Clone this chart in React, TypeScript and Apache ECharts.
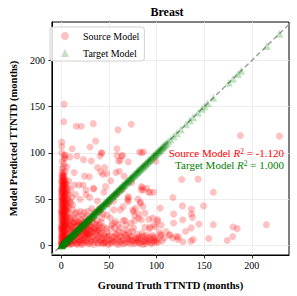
import React, { useEffect, useRef } from "react";
import * as echarts from "echarts";

const FONT = "Liberation Serif";

const xTickLabels = [0, 50, 100, 150, 200];
const yTickLabels = [0, 50, 100, 150, 200];

const seriesNames = ["Source Model", "Target Model"];

const sourceR2 = "-1.120";
const targetR2 = "1.000";

// [ground truth, predicted] for source model
const sourcePoints: [number, number][] = [
  // dense column near x = 0
  [0.5, 1], [1, 3], [2, 0.5], [3, 2], [0.2, 5], [1.5, 6], [2.5, 4], [4, 3], [0.8, 8], [2, 9],
  [3.5, 7], [5, 5], [0.3, 11], [1.2, 12], [2.8, 13], [4.5, 11], [6, 8], [0.6, 15], [2, 16], [3.3, 17],
  [5.5, 15], [1, 19], [2.4, 20], [4, 21], [6.5, 19], [0.4, 23], [1.8, 24], [3, 25], [5, 24], [0.9, 27],
  [2.2, 28], [3.8, 29], [6, 28], [0.5, 31], [1.6, 32], [3, 33], [4.8, 32], [1.1, 35], [2.5, 36], [4, 37],
  [6.2, 35], [0.3, 39], [1.7, 40], [3.2, 41], [5, 40], [0.8, 43], [2.1, 44], [3.6, 45], [5.8, 44], [0.4, 47],
  [1.5, 48], [3, 49], [4.6, 48], [1, 51], [2.4, 52], [4, 53], [0.6, 55], [1.9, 56], [3.4, 57], [5.2, 56],
  [1.2, 59], [2.6, 60], [4.2, 61], [0.7, 63], [2, 64], [3.5, 65], [1.4, 67], [2.9, 68], [4.5, 69], [0.9, 70],
  [2.3, 71], [3.8, 72], [1.5, 74], [3, 76], [2, 78], [4.2, 80], [1, 83], [5.8, 85], [3, 88], [2.4, 85],
  [3.1, 94], [4.1, 97.4], [3.5, 98], [1, 91], [0.7, 107], [0.7, 111.8], [2.8, 133.8], [3.1, 152.8], [0.5, 100], [4.1, 94.6],
  [1.5, 79], [0.2, 18], [0.1, 36], [0.2, 58], [0.4, 2.5], [1.3, 0.3], [2.6, 1.6], [3.7, 0.4], [5.2, 1.8], [0.9, 21],
  [0.3, 0.5], [1.1, 1.8], [2.2, 2.7], [3.4, 4.5], [4.6, 6.5], [0.6, 4], [1.8, 7.5], [2.9, 10], [0.2, 9], [1.5, 10.5],
  [3.9, 9], [5.5, 12], [0.9, 13.5], [2.3, 14.5], [4.1, 16], [0.4, 17], [1.6, 18], [3.6, 19], [5.2, 21.5], [0.7, 20.5],
  [2.8, 22], [4.4, 23.5], [1.3, 25.5], [2.6, 26], [4.7, 26.5], [0.2, 28.5], [1.9, 29.5], [3.3, 30.5], [5.4, 30], [0.8, 33.5],
  [2.1, 34], [3.8, 34.5], [0.5, 37], [1.9, 37.5], [3.5, 38.5], [4.9, 38], [1.2, 41.5], [2.7, 42], [4.4, 42.5], [0.6, 45],
  [2, 46], [3.3, 46.5], [5.1, 46], [0.9, 49.5], [2.2, 50], [3.8, 50.5], [0.3, 52.5], [1.7, 53.5], [3.2, 54], [4.8, 54.5],
  [1, 57.5], [2.4, 58], [3.9, 58.5], [0.5, 61], [1.8, 61.5], [3.1, 62.5], [1.1, 65], [2.5, 66], [4, 66.5], [0.4, 68.5],
  [1.9, 69], [3.3, 70], [1.2, 72.5], [2.7, 73.5], [0.6, 76], [2.1, 75], [6.8, 3], [7.5, 9], [6.9, 23], [6.3, 31],
  [6.7, 42], [5.6, 50], [6, 58], [5.3, 63],
  // bottom-left mass
  [7, 2], [8, 6], [9, 1], [10, 4], [11, 9], [12, 2], [13, 6], [14, 11], [15, 3], [16, 8],
  [17, 1], [18, 13], [19, 5], [20, 9], [21, 2], [22, 15], [23, 7], [24, 3], [25, 11], [26, 5],
  [27, 18], [28, 2], [29, 8], [30, 13], [31, 4], [32, 20], [33, 9], [34, 1], [35, 15], [36, 6],
  [37, 22], [38, 3], [39, 10], [40, 17], [41, 5], [42, 25], [43, 8], [44, 2], [45, 12],
  [7, 12], [8, 17], [9, 22], [10, 27], [11, 31], [12, 19], [13, 24], [14, 29], [15, 34], [16, 21],
  [17, 26], [18, 31], [19, 17], [20, 23], [21, 28], [22, 33], [23, 19], [24, 26], [25, 30], [26, 16],
  [27, 24], [28, 32], [29, 21], [30, 27], [31, 17], [33, 25], [34, 30], [36, 19], [38, 27], [40, 23],
  [43, 30], [45, 20], [6, 38], [8, 42], [9, 35], [10, 46], [12, 39], [7, 50], [8, 55], [9, 48],
  [10, 60], [11, 52], [7, 62], [6, 66], [8, 70], [12, 44], [16, 36], [20, 37], [24, 36], [28, 37],
  [32, 40], [35, 36], [41, 37], [44, 34], [9.5, 14], [13.5, 16], [18.5, 3.5], [22.5, 5.5], [26.5, 12.5], [31.5, 9.5],
  [5.5, 2.5], [6.5, 6], [8.5, 3.5], [9, 8.5], [10.5, 1.5], [11.5, 5.5], [12.5, 10], [13, 14], [14.5, 4.5], [15.5, 12],
  [16.5, 2], [17.5, 7], [18, 10], [19.5, 14], [20.5, 6], [21.5, 11], [22, 1], [23.5, 17], [24.5, 8], [25, 14],
  [26, 20], [27, 4], [28, 11], [29, 16], [30, 2], [30.5, 21], [32, 6], [33, 14], [34.5, 18], [35, 4],
  [36.5, 12], [37.5, 8], [38.5, 16], [39, 2], [40, 9], [41, 13], [42, 3], [43, 19], [44, 6], [45, 3],
  [46, 10], [7.5, 18], [8, 25], [9.5, 29], [10.5, 21], [11, 17], [12, 24], [13.5, 20], [14, 26], [15, 17],
  [16, 24], [17, 14], [18, 22], [19, 25], [20, 18], [21, 21], [22, 24], [23, 12], [24, 17], [25, 22],
  [26, 9], [27, 13], [28, 25], [29, 12], [30, 19], [32, 14], [35, 24], [37, 16], [39, 20], [42, 14],
  // bottom band
  [46, 3], [47, 8], [48, 14], [49, 1], [50, 6], [51, 11], [52, 18], [53, 3], [54, 9], [55, 24],
  [56, 5], [57, 13], [58, 2], [59, 7], [60, 16], [61, 4], [62, 19], [63, 10], [64, 2], [65, 6],
  [66, 12], [67, 27], [68, 4], [69, 8], [70, 3], [71, 14], [72, 6], [73, 2], [74, 10], [75, 15.4],
  [76, 5], [77, 26.8], [78, 8], [79, 3], [80, 12], [81, 5], [82, 9], [83, 2], [84, 7], [85, 13.6],
  [86, 4], [87, 10], [88, 6], [89, 2], [90, 8], [91, 4], [92.6, 18.2], [93, 9], [94, 3], [95, 6],
  [96, 11], [97, 4], [98, 8], [99, 20], [100, 3], [101, 7], [103, 14], [104.5, 10.7], [104.5, 11.8], [106, 5],
  [108, 8], [47, 18], [51.7, 29.7], [53, 22], [57, 26], [65.3, 27.2], [69, 17], [73, 24], [81.3, 29.7], [81.3, 33.9],
  [84, 27.8], [88, 20], [93.3, 19.7], [96, 29.7], [97.7, 22.5], [101, 26.1], [101.1, 28],
  [47.5, 4], [49.5, 10], [51, 2], [52.5, 6], [54.5, 4], [56.5, 9], [58.5, 12], [60, 1], [61.5, 9], [63, 5],
  [65, 14], [66.5, 2], [68, 11], [70.5, 7], [72, 10], [74.5, 5], [76.5, 2], [78.5, 6], [80, 8], [82, 3],
  [84.5, 10], [86, 1], [88, 4], [90, 11], [92, 6], [95, 2], [97, 9], [99, 5], [102, 4], [60, 23],
  [56, 19], [68, 22], [76, 19],
  // right side
  [113.6, 10.7], [114, 11.8], [117, 8], [120.8, 10], [122.1, 6.4], [123, 9], [127.6, 4], [130.6, 15.4], [136.1, 4.7], [136.4, 19],
  [138.5, 6.4], [144.6, 23.2], [154.8, 7.5], [159.6, 22.5], [174.2, 5.4], [180, 9.6], [180.3, 20], [184.7, 18.2], [215.3, 22.5], [118, 24.3],
  [118, 33.9], [127.6, 27.8], [137.8, 30.4], [103.8, 40.4], [117.3, 51.8], [127.2, 42.8], [136.7, 39.3], [136.7, 34], [149.4, 42.8], [126.5, 71.4],
  [143.6, 71.7], [159.6, 57.5], [188, 118.8], [229, 118.2], [99.4, 91], [97, 57.5], [110, 15],
  // scattered middle
  [44.9, 57.5], [70.4, 51], [70.4, 47.5], [84, 60], [91.8, 57.5], [83, 45.7], [85.7, 42.2], [55.1, 38.5], [62, 38.5], [75.5, 36.8],
  [77.2, 32.5], [75.5, 38.5], [82.3, 101], [86.4, 101], [84.1, 63.6], [89.8, 61.8], [93.3, 57.5], [70.4, 52.9], [69.8, 49.3], [80.6, 50.3],
  [83.1, 46.8], [16, 128.9], [21.1, 128.9], [33.7, 131.7], [59.6, 125], [73.5, 131], [36.1, 112.8], [30.3, 106.4], [11.6, 104.6], [42.6, 100.3],
  [40.8, 96.8], [58.6, 104.6], [58.6, 97.4], [63.7, 96.8], [62, 92], [16.7, 96.8], [23.5, 92.8], [13.7, 78.9], [38.2, 84.3], [41.5, 79.6],
  [45.6, 84.3], [24.5, 75], [29.6, 74.3], [57.5, 78.9], [60.9, 80.3], [34.1, 61.8], [46.6, 63.6], [13.7, 65.3], [18.5, 65.3], [22.9, 65.3],
  [26.2, 60], [84.4, 100.3], [42.2, 100], [64.3, 97.4], [31.6, 91.4], [60.2, 91.4], [70.4, 90.4], [43.9, 76.8], [48, 77.8], [85.4, 62.5],
  [86.1, 60], [34, 61], [9.2, 95.7], [30, 52], [38, 48], [50, 45], [58, 55], [64, 60], [52, 70], [74, 68],
  [66, 75], [20, 50], [26, 55], [15, 55], [40, 40], [48, 33], [55, 48], [78, 40], [65, 42], [88, 35],
  [92, 28], [105, 22],
];

// target model: predictions equal ground truth (R^2 = 1.000)
const targetValues: number[] = [
  0, 0.2, 0.5, 0.7, 1, 1.4, 1.6, 2, 2.3, 2.9, 3.1, 3.6, 4, 4.2, 4.8, 5.1, 5.7, 6, 6.6, 7.2,
  7.5, 8.1, 8.4, 9, 9.7, 10.2, 10.6, 11.3, 11.9, 12.4, 12.8, 13.6, 14.1, 14.5, 15.3, 15.8, 16.6, 17, 17.7, 18.5,
  19, 19.9, 20.4, 21.1, 21.8, 22.6, 23.2, 24, 24.5, 25.4, 26.1, 26.8, 27.5, 28.3, 29, 29.9, 30.6, 31.2, 32.1, 32.9,
  33.5, 34.4, 35.2, 36.1, 36.8, 37.5, 38.6, 39.3, 40.1, 41, 41.9, 42.8, 43.6, 44.7, 45.5, 46.3, 47.4, 48.2, 49.1, 50,
  51.1, 52, 53.2, 54, 55.1, 56.3, 57.1, 58.4, 59.2, 60.5, 61.4, 62.6, 63.5, 64.8, 65.7, 67, 68.1, 69.3, 70.2, 71.6,
  72.7, 73.8, 75.1, 76.3, 77.5, 78.9, 80.1, 81.2, 82.6, 83.9, 85.2, 86.4, 87.9, 89, 90.6, 91.8, 93.1, 94.7, 96, 97.5,
  98.8, 100.2, 101.9, 103.1, 104.6, 106.2, 107.5, 109.6, 114.7, 118, 121.4, 125.5, 131, 135.1, 138.5, 143.6, 147.7, 150.4, 153.8, 159.6,
  175.9, 180.3, 185.4, 188.8, 215.7, 229,
  0.1, 0.4, 0.9, 1.2, 1.8, 2.5, 2.7, 3.3, 3.8, 4.5, 5.3, 5.9, 6.3, 6.9, 7.8, 8.7, 9.3, 9.9, 10.4, 11,
  11.6, 12.1, 13.2, 13.9, 14.8, 15.6, 16.2, 17.3, 18.1, 18.8, 19.4, 20.1, 20.8, 21.5, 22.3, 23, 23.7, 24.3, 25, 25.8,
  26.5, 27.2, 28, 28.7, 29.5, 30.2, 31, 31.8, 32.5, 33.2, 34, 34.8, 35.6, 36.4, 37.2, 38, 39, 39.8, 40.6, 41.5,
  42.3, 43.2, 44.1, 45, 46, 46.8, 47.8, 48.6, 49.6, 50.5, 51.6, 52.6, 53.6, 54.6, 55.6, 56.7, 57.7, 58.8, 59.8, 60.9,
  62, 63, 64.2, 65.2, 66.3, 67.5, 68.6, 69.8, 70.8, 72.2, 73.2, 74.4, 75.7, 76.9, 78.2, 79.5, 80.7, 81.9, 83.2, 84.5,
  85.8, 87.1, 88.5, 89.8, 91.2, 92.5, 93.8, 95.3, 96.7, 98.1, 99.5, 101, 102.5, 103.8, 105.4, 107, 108.5, 110.5, 112.3,
];

const diagonal: [number, number][] = [
  [-12, -12],
  [245, 245],
];

export default function App() {
  const ref = useRef<HTMLDivElement>(null);

  useEffect(() => {
    if (!ref.current) return;
    const chart = echarts.init(ref.current, undefined, { renderer: "svg" });
    const axisCommon = {
      type: "value" as const,
      axisLine: { show: true, onZero: false, lineStyle: { color: "#000", width: 1 } },
      splitLine: { show: true, lineStyle: { color: "#e8e8e8", width: 0.8 } },
      nameLocation: "middle" as const,
      nameTextStyle: { fontFamily: FONT, fontWeight: "bold" as const, fontSize: 10.5, color: "#000" },
    };
    chart.setOption({
      animation: false,
      backgroundColor: "#fff",
      grid: { left: 45, right: 8, top: 22, bottom: 38.7, show: true, borderColor: "#000", borderWidth: 1 },
      xAxis: {
        ...axisCommon,
        min: -9.7,
        max: 239,
        name: "Ground Truth TTNTD (months)",
        nameGap: 25,
        axisTick: { show: true, length: 3.5, lineStyle: { color: "#000", width: 0.8 }, customValues: xTickLabels },
        axisLabel: {
          fontFamily: FONT,
          fontSize: 10,
          color: "#000",
          margin: 5,
          customValues: xTickLabels,
        },
      },
      yAxis: {
        ...axisCommon,
        min: -10.3,
        max: 241.6,
        name: "Model Predicted TTNTD (months)",
        nameGap: 30,
        axisTick: { show: true, length: 3.5, lineStyle: { color: "#000", width: 0.8 }, customValues: yTickLabels },
        axisLabel: {
          fontFamily: FONT,
          fontSize: 10,
          color: "#000",
          margin: 7,
          customValues: yTickLabels,
        },
      },
      legend: {
        data: [
          { name: seriesNames[0], icon: "circle" },
          { name: seriesNames[1], icon: "triangle" },
        ],
        orient: "vertical",
        left: 50,
        top: 27,
        padding: [4, 5, 3, 11],
        itemGap: 7,
        itemWidth: 8,
        itemHeight: 8,
        borderColor: "#d0d0d0",
        borderWidth: 1,
        borderRadius: 3,
        backgroundColor: "rgba(255,255,255,0.85)",
        textStyle: { fontFamily: FONT, fontSize: 10, color: "#000", padding: [0, 0, 0, 9] },
      },
      series: [
        {
          type: "line",
          data: diagonal,
          showSymbol: false,
          silent: true,
          z: 1,
          lineStyle: { color: "#a0a0a0", width: 1.5, type: [5, 3] },
        },
        {
          name: seriesNames[0],
          type: "scatter",
          data: sourcePoints,
          symbol: "circle",
          symbolSize: 7,
          z: 2,
          itemStyle: { color: "rgba(255,0,0,0.3)" },
        },
        {
          name: seriesNames[1],
          type: "scatter",
          data: targetValues.map((v) => [v, v]),
          symbol: "triangle",
          symbolSize: 8,
          z: 3,
          itemStyle: { color: "rgba(0,128,0,0.3)" },
        },
      ],
      graphic: [
        {
          type: "text",
          x: 167,
          y: 12,
          style: {
            text: "Breast",
            fontFamily: FONT,
            fontWeight: "bold",
            fontSize: 12,
            fill: "#000",
            align: "center",
            verticalAlign: "middle",
          },
        },
        {
          type: "text",
          x: 284,
          y: 153.3,
          z: 10,
          style: {
            text: `Source Model {i|R}{s|2} = ${sourceR2}`,
            fontFamily: FONT,
            fontSize: 11,
            fill: "#ff0000",
            align: "right",
            verticalAlign: "middle",
            rich: {
              i: { fontFamily: FONT, fontSize: 11, fontStyle: "italic", fill: "#ff0000" },
              s: { fontFamily: FONT, fontSize: 7.5, fill: "#ff0000", verticalAlign: "top" },
            },
          },
        },
        {
          type: "text",
          x: 284,
          y: 165,
          z: 10,
          style: {
            text: `Target Model {i|R}{s|2} = ${targetR2}`,
            fontFamily: FONT,
            fontSize: 11,
            fill: "#008000",
            align: "right",
            verticalAlign: "middle",
            rich: {
              i: { fontFamily: FONT, fontSize: 11, fontStyle: "italic", fill: "#008000" },
              s: { fontFamily: FONT, fontSize: 7.5, fill: "#008000", verticalAlign: "top" },
            },
          },
        },
      ],
    });
    return () => chart.dispose();
  }, []);

  return (
    <div
      ref={ref}
      style={{ position: "absolute", left: 0, top: 0, width: 297, height: 296 }}
    />
  );
}
